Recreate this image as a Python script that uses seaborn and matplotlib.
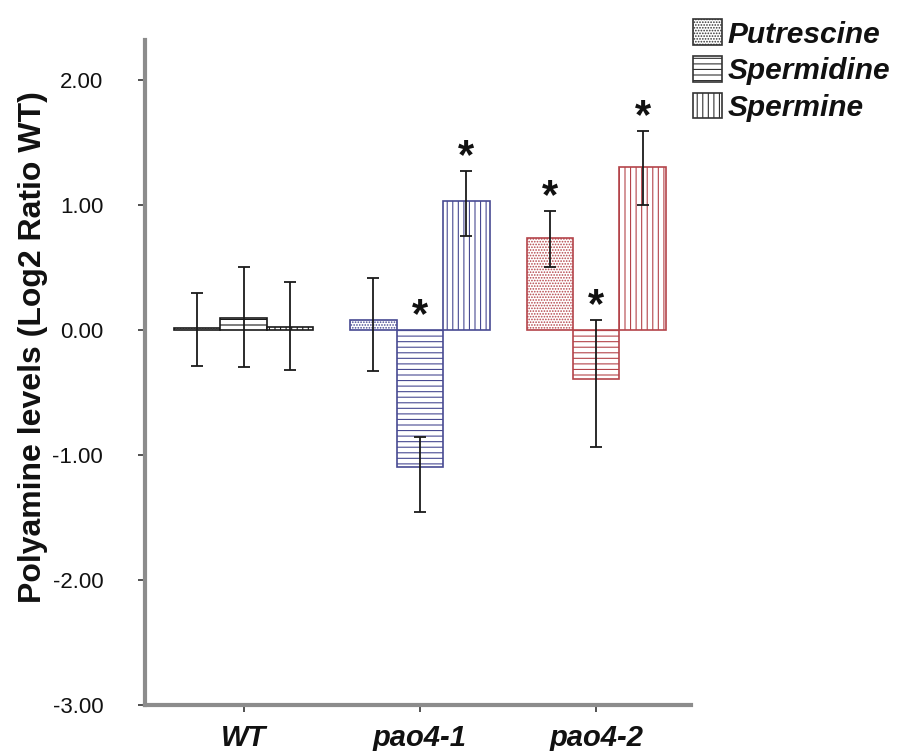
import matplotlib
matplotlib.use("Agg")
import matplotlib.pyplot as plt
from matplotlib.patches import Patch
import seaborn as sns
import pandas as pd
import numpy as np

# ---- data ----
genotypes = ["WT", "pao4-1", "pao4-2"]
polyamines = ["Putrescine", "Spermidine", "Spermine"]
putrescine = [0.01, 0.08, 0.73]
spermidine = [0.09, -1.10, -0.39]
spermine = [0.02, 1.03, 1.30]
# error bars (lower, upper)
put_err_lo = [0.30, 0.41, 0.23]
put_err_hi = [0.28, 0.33, 0.22]
spd_err_lo = [0.39, 0.36, 0.55]
spd_err_hi = [0.41, 0.24, 0.47]
spm_err_lo = [0.34, 0.28, 0.30]
spm_err_hi = [0.36, 0.24, 0.29]
# significance flags
put_sig = [False, False, True]
spd_sig = [False, True, True]
spm_sig = [False, True, True]
yticks = [-3.0, -2.0, -1.0, 0.0, 1.0, 2.0]

values = [putrescine, spermidine, spermine]
errs_lo = [put_err_lo, spd_err_lo, spm_err_lo]
errs_hi = [put_err_hi, spd_err_hi, spm_err_hi]
sigs = [put_sig, spd_sig, spm_sig]

rows = []
for p, vals in zip(polyamines, values):
    for g, v in zip(genotypes, vals):
        rows.append({"genotype": g, "polyamine": p, "value": v})
df = pd.DataFrame(rows)

# ---- style ----
sns.set_style("white")
plt.rcParams["font.family"] = ["Liberation Sans", "DejaVu Sans"]
plt.rcParams["hatch.linewidth"] = 0.8
plt.rcParams["text.color"] = "#111111"
plt.rcParams["axes.labelcolor"] = "#111111"
plt.rcParams["xtick.color"] = "#111111"
plt.rcParams["ytick.color"] = "#111111"

group_colors = ["#1a1a1a", "#484a92", "#b4444a"]
hatches = ["......", "---", "|||"]

fig = plt.figure(figsize=(9.05, 7.51), dpi=100)
ax = fig.add_axes([0.160, 0.0613, 0.604, 0.886])

sns.barplot(data=df, x="genotype", y="value", hue="polyamine",
            order=genotypes, hue_order=polyamines, width=0.79,
            errorbar=None, legend=False, ax=ax, palette=["white"] * 3)

bar_containers = list(ax.containers)
for hi, cont in enumerate(bar_containers):
    for gi, bar in enumerate(cont.patches):
        bar.set_facecolor("white")
        bar.set_edgecolor(group_colors[gi])
        bar.set_hatch(hatches[hi])
        bar.set_linewidth(1.2)
        xc = bar.get_x() + bar.get_width() / 2
        v = values[hi][gi]
        ax.errorbar(xc, v, yerr=[[errs_lo[hi][gi]], [errs_hi[hi][gi]]],
                    fmt="none", ecolor="#1a1a1a", elinewidth=1.3,
                    capsize=4.5, capthick=1.3, zorder=5)
        if sigs[hi][gi]:
            top = max(0.0, v + errs_hi[hi][gi])
            ax.text(xc, top - 0.05, "*", ha="center", va="bottom",
                    fontsize=30, fontweight="bold", color="#111111", zorder=6)

ax.set_ylim(-3.0, 2.32)
ax.set_xlim(-0.56, 2.54)
ax.set_yticks(yticks)
ax.set_yticklabels([f"{t:.2f}" for t in yticks], fontsize=16)
ax.set_xticks(range(len(genotypes)))
ax.set_xticklabels(genotypes, fontsize=21, fontweight="bold", fontstyle="italic")
ax.set_xlabel("")
ax.set_ylabel("Polyamine levels (Log2 Ratio WT)", fontsize=23,
              fontweight="bold")
ax.yaxis.set_label_coords(-0.177, 0.538)

for s in ["top", "right"]:
    ax.spines[s].set_visible(False)
for s in ["left", "bottom"]:
    ax.spines[s].set_color("#8c8c8c")
    ax.spines[s].set_linewidth(3)
ax.tick_params(axis="both", which="both", direction="out", length=5,
               width=1.2, color="#333333", left=True, bottom=True)
ax.tick_params(axis="y", pad=25)
ax.tick_params(axis="x", pad=9)

handles = [Patch(facecolor="white", edgecolor="#333333", hatch=h, linewidth=1.2)
           for h in hatches]
fig.legend(handles, polyamines, loc="upper left",
           bbox_to_anchor=(0.753, 0.99), frameon=False,
           prop={"family": "Liberation Sans", "weight": "bold",
                 "style": "italic", "size": 21.5},
           handlelength=0.95, handleheight=0.95, handletextpad=0.2,
           labelspacing=0.25, borderaxespad=0)

fig.savefig("out.png", dpi=100, facecolor="white")
